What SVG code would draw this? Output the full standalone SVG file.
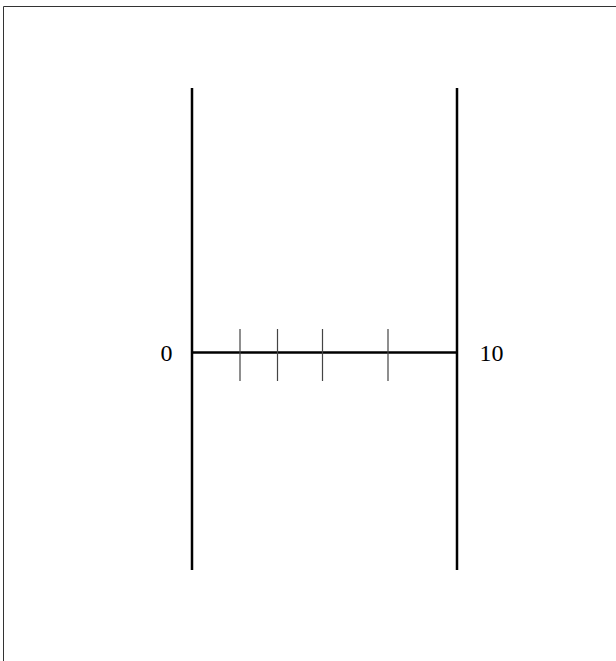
<svg xmlns="http://www.w3.org/2000/svg" width="616" height="661" viewBox="0 0 616 661">
<style>
.post{stroke:#000;stroke-width:2.5;fill:none}
.axis{stroke:#000;stroke-width:2.5}
.tick{stroke:#444;stroke-width:1.2}
.lbl{font-family:"Liberation Serif","Times New Roman",serif;font-size:24px;fill:#000}
</style>
<rect width="616" height="661" fill="#fff"/>
<path d="M3.5 661V6.5H616" fill="none" stroke="#333" stroke-width="1"/>
<g id="connectors">
<line class="post" x1="192" y1="88" x2="192" y2="570"/>
<line class="post" x1="457" y1="88" x2="457" y2="570"/>
<line class="axis" x1="192" y1="352.5" x2="457" y2="352.5"/>
<line class="tick" x1="240" y1="329" x2="240" y2="381"/>
<line class="tick" x1="277.5" y1="329" x2="277.5" y2="381"/>
<line class="tick" x1="322.5" y1="329" x2="322.5" y2="381"/>
<line class="tick" x1="388" y1="329" x2="388" y2="381"/>
</g>
<g id="label-0"><text class="lbl" x="166.5" y="360.5" text-anchor="middle">0</text></g>
<g id="label-10"><text class="lbl" x="491.5" y="360.5" text-anchor="middle">10</text></g>
</svg>
